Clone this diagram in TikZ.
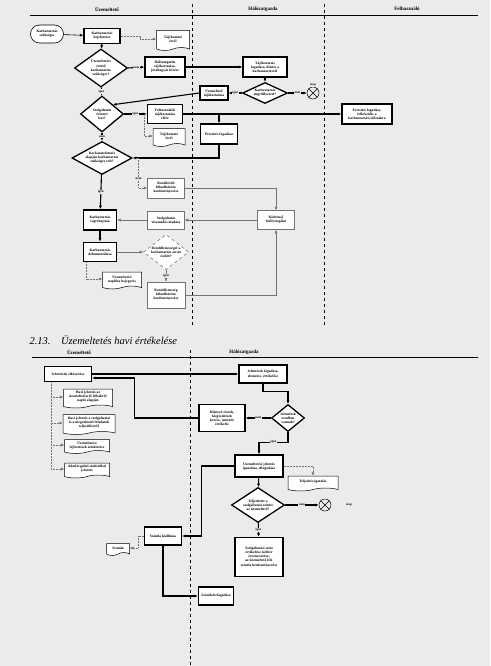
\documentclass[tikz,border=0pt]{standalone}
\usepackage{fontspec}
\setmainfont{Liberation Serif}
\usetikzlibrary{shapes.geometric,shapes.symbols,shapes.misc,arrows.meta}
\definecolor{paper}{gray}{0.92}

\begin{document}
\begin{tikzpicture}[x=1pt,y=-1pt,>={Latex[length=3.5pt,width=3pt]},
	font=\fontsize{3.6}{4.1}\selectfont\bfseries,
	box/.style={draw,line width=1.3pt,fill=white,align=center,inner sep=1pt},
	thinbox/.style={draw=black!55,line width=0.5pt,fill=white,align=center,inner sep=1pt},
	dec/.style={diamond,draw,line width=1.3pt,fill=white,align=center,inner sep=0.3pt},
	doc/.style={tape,tape bend top=none,tape bend bottom=in and out,tape bend height=3pt,draw,line width=0.5pt,fill=white,align=center,inner sep=1pt},
	term/.style={rounded rectangle,draw,line width=0.6pt,fill=white,align=center,inner sep=1pt},
	stopsign/.style={circle,draw,line width=0.5pt,minimum size=12pt,inner sep=0pt},
	flow/.style={line width=1.1pt},
	weak/.style={draw=black!55,line width=0.5pt},
	info/.style={densely dotted,draw=black!55,line width=0.5pt},
	lbl/.style={fill=paper,inner sep=0.6pt,font=\fontsize{3.2}{3.6}\selectfont\bfseries},
	lane/.style={dashed,line width=0.5pt},
	hdr/.style={font=\fontsize{5}{6}\selectfont\bfseries}]
	\useasboundingbox (0,0) rectangle (490,666);
	\fill[paper] (0,0) rectangle (490,666);

	\node[hdr] (hu) at (107,9) {Üzemeltető};
	\node[hdr] (hh) at (263,9) {Hálózatgazda};
	\node[hdr] (hf) at (407,9) {Felhasználó};
	\draw[line width=0.6pt] (30,15) -- (478,15);
	\draw[lane] (192,4) -- (192,325);
	\draw[lane] (324,4) -- (324,325);

	\node[term,minimum width=35pt,minimum height=18pt] (start) at (47,34) {Karbantartás\\szükséges};
	\node[box,minimum width=36pt,minimum height=15pt] (kb) at (102,36) {Karbantartás\\bejelentése};
	\node[doc,minimum width=33pt,minimum height=20pt] (lev1) at (173,39) {Tájékoztató\\levél};
	\node[dec,minimum width=53pt,minimum height=38pt] (erint) at (101,68) {Üzemeltetést\\érintő\\karbantartás\\szükséges?};
	\node[box,minimum width=40pt,minimum height=20pt] (hgtaj) at (165,67) {Hálózatgazda\\tájékoztatása,\\jóváhagyás kérése};
	\node[box,minimum width=44pt,minimum height=20pt] (dont) at (265,67) {Tájékoztatás\\fogadása, döntés a\\karbantartásról};
	\node[dec,aspect=2.1,minimum width=45pt,minimum height=21pt] (enged) at (265,93) {Karbantartás\\engedélyezett?};
	\node[stopsign,label={[lbl]above:stop}] (stop1) at (313,93) {};
	\node[box,minimum width=28pt,minimum height=14pt] (uztaj) at (214,93) {Üzemeltető\\tájékoztatása};
	\node[dec,minimum width=43pt,minimum height=36pt] (szolg) at (102,114) {Szolgáltatás\\érintett\\lesz?};
	\node[box,minimum width=35pt,minimum height=19pt] (fhtaj) at (165,114) {Felhasználók\\tájékoztatása\\előre};
	\node[doc,minimum width=32pt,minimum height=18pt] (lev2) at (169,136) {Tájékoztató\\levél};
	\node[box,minimum width=37pt,minimum height=20pt] (ertes) at (219,134) {Értesítés fogadása};
	\node[box,minimum width=50pt,minimum height=20pt] (felk) at (367,114) {Értesítés fogadása,\\felkészülés a\\karbantartási időszakra};
	\node[dec,aspect=1.8,minimum width=60pt,minimum height=33pt] (kock) at (102,158) {Kockázatelemzés\\alapján karbantartás\\szükséges volt?};
	\node[thinbox,minimum width=37pt,minimum height=20pt] (rk1) at (166,188) {Rendkívüli\\hibaelhárítás\\kezdeményezése};
	\node[box,line width=1.6pt,minimum width=33pt,minimum height=20pt] (vegr) at (100,220) {Karbantartás\\végrehajtása};
	\node[thinbox,minimum width=37pt,minimum height=18pt] (atad) at (166,220) {Szolgáltatás\\visszaadás átadása};
	\node[thinbox,minimum width=37pt,minimum height=19pt] (kozb) at (276,220) {Közbenső\\felülvizsgálat};
	\node[box,line width=1.6pt,minimum width=33pt,minimum height=19pt] (dokum) at (100,252) {Karbantartás\\dokumentálása};
	\node[dec,dashed,draw=black!60,line width=0.5pt,aspect=1.3,minimum width=45pt,minimum height=35pt] (rend) at (166,252) {Rendellenességet a\\karbantartás során\\észlelt?};
	\node[thinbox,minimum width=38pt,minimum height=26pt] (rk2) at (166,295) {Rendellenesség\\hibaelhárítás\\kezdeményezése};
	\node[doc,minimum width=39pt,minimum height=17pt] (napl) at (122,279) {Üzemeltetési\\naplóba bejegyzés};

	\draw[->,line width=0.6pt] (start) -- (kb);
	\draw[info,->] (kb.east) -- ++(20,0) |- (lev1.west);
	\draw[flow,->] (kb) -- (erint);
	\draw[flow,->] (erint.east) to node[lbl] {nem} (hgtaj.west);
	\draw[flow,->] (hgtaj) -- (dont);
	\draw[flow,->] (dont) -- (enged);
	\draw[flow,->] (enged.east) to node[lbl] {nem} (stop1);
	\draw (stop1.north east) -- (stop1.south west) (stop1.north west) -- (stop1.south east);
	\draw[flow,->] (enged.west) to node[lbl] {igen} (uztaj.east);
	\draw[flow,->] (uztaj.west) -- (szolg.north east);
	\draw[flow,->] (erint) to node[lbl] {igen} (szolg);
	\draw[flow,->] (szolg.east) to node[lbl] {igen} (fhtaj.west);
	\draw[info,->] (szolg.east) ++(20,0) |- (lev2.west);
	\draw[flow,->] (fhtaj) -- (felk);
	\draw[flow,->] (ertes.north |- felk.west) -- (ertes.north);
	\draw[flow,->] (ertes.south) |- (kock.east);
	\draw[flow,->] (szolg) to node[lbl] {nem} (kock);
	\draw[flow,->] (kock) to node[lbl] {igen} (vegr);
	\draw[info,->] (kock.east) -- ++(6,0) |- node[lbl,pos=0.35] {nem} (rk1.west);
	\draw[weak,->] (rk1.east) -| (kozb.north);
	\draw[weak,->] (kozb) -- (atad);
	\draw[weak,->] (atad) -- (vegr);
	\draw[flow,->] (vegr) -- (dokum);
	\draw[weak,->] (dokum) -- (rend);
	\draw[weak,->] (rend) to node[lbl] {igen} (rk2);
	\draw[weak,->] (rk2.east) -| (kozb.south);
	\draw[info,->] ([xshift=4pt]dokum.south west) |- (napl.west);

	\node[anchor=west,font=\fontsize{10.5}{12}\selectfont\mdseries\itshape] (cim) at (26,340) {2.13.\quad Üzemeltetés havi értékelése};
	\node[hdr] (hu2) at (79,352) {Üzemeltető};
	\node[hdr] (hh2) at (244,352) {Hálózatgazda};
	\draw[line width=0.6pt] (32,357.5) -- (478,357.5);
	\draw[lane] (190,350) -- (190,666);

	\node[box,minimum width=47pt,minimum height=15pt] (jkesz) at (68,374) {Jelentések elkészítése};
	\node[box,minimum width=48pt,minimum height=18pt] (jfog) at (263,374) {Jelentések fogadása,\\elemzése, értékelése};
	\node[dec,aspect=1.2,minimum width=33pt,minimum height=27pt] (jrend) at (288,418) {Jelentések\\rendben\\vannak?};
	\node[box,minimum width=46pt,minimum height=27pt] (hiany) at (222,418) {Hiányzó részek,\\kiegészítések\\kérése, ismételt\\értékelés};
	\node[doc,minimum width=49pt,minimum height=19pt] (hj1) at (88,397) {Havi jelentés az\\üzemeltetésről, hibákról\\napló alapján};
	\node[doc,minimum width=52pt,minimum height=20pt] (hj2) at (89,423) {Havi jelentés a szolgáltatási\\és a megvalósult feladatok\\teljesüléséről};
	\node[doc,minimum width=45pt,minimum height=14pt] (hj3) at (87,445) {Üzemeltetési\\fejlesztések áttekintése};
	\node[doc,minimum width=45pt,minimum height=15pt] (hj4) at (87,469) {Adatforgalmi statisztikai\\jelentés};
	\node[box,minimum width=48pt,minimum height=22pt] (igaz) at (259,466) {Üzemeltetési jelentés\\igazolása, elfogadása};
	\node[doc,minimum width=50pt,minimum height=15pt] (tig) at (313,482) {Teljesítés igazolás};
	\node[dec,aspect=1.5,minimum width=53pt,minimum height=35pt] (telj) at (258,505) {Teljesítette a\\szolgáltatási szintet\\az üzemeltető?};
	\node[stopsign] (stop2) at (325,505) {};
	\node[lbl] (stoplbl) at (349,505) {stop};
	\node[box,minimum width=48pt,minimum height=39pt] (kotb) at (259,557) {Szolgáltatási szint\\értékelése, kötbér\\érvényesítése;\\az üzemeltető felé\\számla kezdeményezése};
	\node[box,minimum width=37pt,minimum height=18pt] (szkial) at (163,536) {Számla kiállítása};
	\node[doc,minimum width=23pt,minimum height=12pt] (szla) at (118,548) {Számla};
	\node[box,minimum width=35pt,minimum height=18pt] (szbef) at (216,596) {Számla befogadása};

	\draw[flow,->] (jkesz) -- (jfog);
	\draw[flow,->] (hiany.west) -- ++(-64,0) |- ([yshift=-4pt]jkesz.east);
	\draw[info,->] ([xshift=7pt]jkesz.south west) |- (hj1.west);
	\draw[info,->] ([xshift=7pt]jkesz.south west) |- (hj2.west);
	\draw[info,->] ([xshift=7pt]jkesz.south west) |- (hj3.west);
	\draw[info,->] ([xshift=7pt]jkesz.south west) |- (hj4.west);
	\draw[flow,->] (jfog.south) -- ++(0,8) -| (jrend.north);
	\draw[flow,->] (jrend.west) to node[lbl] {nem} (hiany.east);
	\draw[flow,->] (jrend.south) -- ++(0,10) -| node[lbl,pos=0.25] {igen} (igaz.north);
	\draw[info,->] (igaz.east) -| (tig.north);
	\draw[flow,->] (igaz) -- (telj);
	\draw[flow,->] (telj.east) to node[lbl] {nem} (stop2);
	\draw (stop2.north east) -- (stop2.south west) (stop2.north west) -- (stop2.south east);
	\draw[flow,->] (telj) to node[lbl] {igen} (kotb);
	\draw[flow,->] (igaz.west) -- ++(-33,0) |- (szkial.east);
	\draw[info,->] (szkial.west) -- ++(-6,0) |- (szla.east);
	\draw[flow,->] (szkial.south) |- (szbef.west);
\end{tikzpicture}
\end{document}
